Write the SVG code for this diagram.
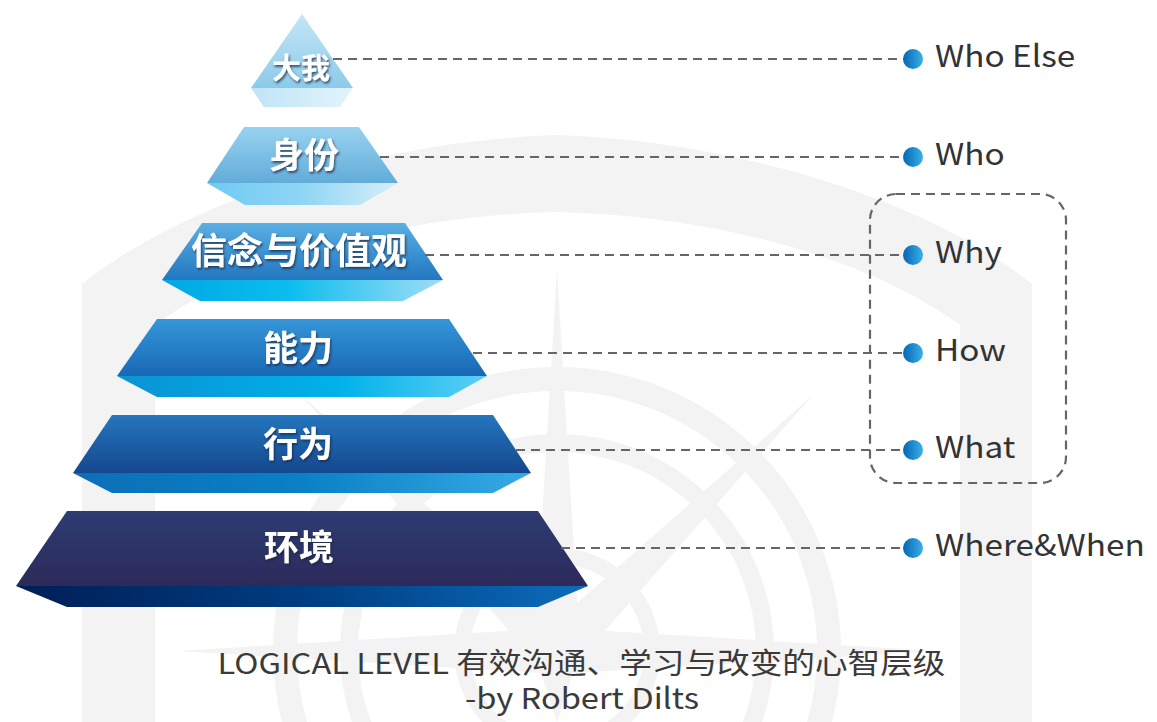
<svg xmlns="http://www.w3.org/2000/svg" width="1157" height="722" viewBox="0 0 1157 722">
<defs>
<style>
.wm{fill:#f3f3f3}
.wmr{fill:none;stroke:#f3f3f3}
.tl{font-family:"Noto Sans CJK SC","Noto Sans",sans-serif;font-weight:700;fill:#ffffff;text-anchor:middle;filter:url(#sh)}
.lb{font-family:"Noto Sans CJK SC","Noto Sans",sans-serif;font-size:30px;fill:#333333}
.cap{font-family:"Noto Sans CJK SC","Noto Sans",sans-serif;font-size:29px;fill:#3a3a3a;text-anchor:middle}
.dl{fill:none;stroke:#666666;stroke-width:2.2;stroke-dasharray:9 6}
.dot{fill:url(#gDot)}
</style>
<filter id="sh" x="-20%" y="-30%" width="140%" height="170%">
<feDropShadow dx="1.2" dy="2" stdDeviation="0.8" flood-color="#1b2a44" flood-opacity="0.75"/>
</filter>
<linearGradient id="gDot" x1="0" y1="0" x2="1" y2="0">
<stop offset="0" stop-color="#0566b4"/><stop offset="1" stop-color="#3bb0e8"/>
</linearGradient>
<linearGradient id="f1" x1="0" y1="0" x2="0" y2="1"><stop offset="0" stop-color="#c4e6f6"/><stop offset="1" stop-color="#8ccae9"/></linearGradient>
<linearGradient id="b1" x1="0" y1="0" x2="1" y2="0"><stop offset="0" stop-color="#bfe4f6"/><stop offset="1" stop-color="#e2f4fc"/></linearGradient>
<linearGradient id="f2" x1="0" y1="0" x2="0" y2="1"><stop offset="0" stop-color="#98d2ef"/><stop offset="1" stop-color="#62acda"/></linearGradient>
<linearGradient id="b2" x1="0" y1="0" x2="1" y2="0"><stop offset="0" stop-color="#70caf3"/><stop offset="0.5" stop-color="#8fd5f4"/><stop offset="1" stop-color="#d8eff9"/></linearGradient>
<linearGradient id="f3" x1="0" y1="0" x2="0" y2="1"><stop offset="0" stop-color="#5aafe3"/><stop offset="1" stop-color="#2277c0"/></linearGradient>
<linearGradient id="b3" x1="0" y1="0" x2="1" y2="0"><stop offset="0" stop-color="#00a8e4"/><stop offset="0.45" stop-color="#0bbdee"/><stop offset="1" stop-color="#a0ddf6"/></linearGradient>
<linearGradient id="f4" x1="0" y1="0" x2="0" y2="1"><stop offset="0" stop-color="#3596d8"/><stop offset="1" stop-color="#1968b5"/></linearGradient>
<linearGradient id="b4" x1="0" y1="0" x2="1" y2="0"><stop offset="0" stop-color="#0a92d4"/><stop offset="0.6" stop-color="#00b2e9"/><stop offset="1" stop-color="#5ccff5"/></linearGradient>
<linearGradient id="f5" x1="0" y1="0" x2="0" y2="1"><stop offset="0" stop-color="#2476bd"/><stop offset="1" stop-color="#15478e"/></linearGradient>
<linearGradient id="b5" x1="0" y1="0" x2="1" y2="0"><stop offset="0" stop-color="#0c6fb6"/><stop offset="0.5" stop-color="#0a80c6"/><stop offset="1" stop-color="#36aae3"/></linearGradient>
<linearGradient id="f6" x1="0" y1="0" x2="0" y2="1"><stop offset="0" stop-color="#2d3c72"/><stop offset="1" stop-color="#2c2a5a"/></linearGradient>
<linearGradient id="b6" x1="0" y1="0" x2="1" y2="0"><stop offset="0" stop-color="#001e56"/><stop offset="0.5" stop-color="#003d80"/><stop offset="1" stop-color="#0c6cbb"/></linearGradient>
</defs>
<rect width="1157" height="722" fill="#ffffff"/>
<g id="watermark">
<path class="wm" fill-rule="evenodd" d="M82,722 L82,284 C200,190 400,140 557,135 C714,140 914,190 1032,284 L1032,722 Z M155,722 L155,325 C254,252 414,215 557,212 C700,215 860,252 960,325 L960,722 Z"/>
<circle class="wmr" cx="557" cy="651" r="272" stroke-width="24"/>
<circle class="wmr" cx="557" cy="651" r="208" stroke-width="18"/>
<circle class="wmr" cx="557" cy="651" r="95" stroke-width="16"/>
<polygon class="wm" points="557,270 580,651 557,722 534,651"/>
<polygon class="wm" points="176,651 557,628 938,651 557,674"/>
<polygon class="wm" points="813,395 573,667 541,635"/>
<polygon class="wm" points="301,395 573,635 541,667"/>
</g>
<g id="tier-dawo">
<polygon points="302,14 353,88 251,88" fill="url(#f1)"/>
<polygon points="251,88 353,88 340,107 264,107" fill="url(#b1)"/>
<text class="tl" x="301" y="79" font-size="29">大我</text>
</g>
<g id="tier-shenfen">
<polygon points="244,127 359,127 398,183 207,183" fill="url(#f2)"/>
<polygon points="207,183 398,183 360,205 245,205" fill="url(#b2)"/>
<text class="tl" x="304" y="168" font-size="35">身份</text>
</g>
<g id="tier-xinnian">
<polygon points="202,223 405,223 443,280 162,280" fill="url(#f3)"/>
<polygon points="162,280 443,280 403,301 200,301" fill="url(#b3)"/>
<text class="tl" x="299" y="264" font-size="36">信念与价值观</text>
</g>
<g id="tier-nengli">
<polygon points="157,319 449,319 487,376 117,376" fill="url(#f4)"/>
<polygon points="117,376 487,376 449,397 157,397" fill="url(#b4)"/>
<text class="tl" x="298" y="361" font-size="35">能力</text>
</g>
<g id="tier-xingwei">
<polygon points="112,415 493,415 531,473 73,473" fill="url(#f5)"/>
<polygon points="73,473 531,473 493,493 112,493" fill="url(#b5)"/>
<text class="tl" x="298" y="457" font-size="35">行为</text>
</g>
<g id="tier-huanjing">
<polygon points="67,511 538,511 588,586 16,586" fill="url(#f6)"/>
<polygon points="16,586 588,586 538,607 67,607" fill="url(#b6)"/>
<text class="tl" x="299" y="560" font-size="35">环境</text>
</g>
<g id="connectors">
<line class="dl" x1="333" y1="59" x2="905" y2="59"/>
<line class="dl" x1="380" y1="157" x2="905" y2="157"/>
<line class="dl" x1="425" y1="255" x2="905" y2="255"/>
<line class="dl" x1="473" y1="353" x2="905" y2="353"/>
<line class="dl" x1="516" y1="450" x2="905" y2="450"/>
<line class="dl" x1="561" y1="548" x2="905" y2="548"/>
</g>
<g id="group-box">
<rect class="dl" x="870" y="194" width="196" height="289" rx="26" ry="26"/>
</g>
<g id="label-who-else"><circle class="dot" cx="913" cy="59" r="10"/><text class="lb" transform="translate(935,67) scale(1.11,1)">Who Else</text></g>
<g id="label-who"><circle class="dot" cx="913" cy="157" r="10"/><text class="lb" transform="translate(935,165) scale(1.11,1)">Who</text></g>
<g id="label-why"><circle class="dot" cx="913" cy="255" r="10"/><text class="lb" transform="translate(935,263) scale(1.11,1)">Why</text></g>
<g id="label-how"><circle class="dot" cx="913" cy="353" r="10"/><text class="lb" transform="translate(935,361) scale(1.11,1)">How</text></g>
<g id="label-what"><circle class="dot" cx="913" cy="450" r="10"/><text class="lb" transform="translate(935,458) scale(1.11,1)">What</text></g>
<g id="label-where-when"><circle class="dot" cx="913" cy="548" r="10"/><text class="lb" transform="translate(935,556) scale(1.11,1)">Where&amp;When</text></g>
<g id="caption">
<text class="cap" transform="translate(581.5,674) scale(1.125,1)">LOGICAL LEVEL 有效沟通、学习与改变的心智层级</text>
<text class="cap" transform="translate(582,709) scale(1.125,1)">-by Robert Dilts</text>
</g>
</svg>
